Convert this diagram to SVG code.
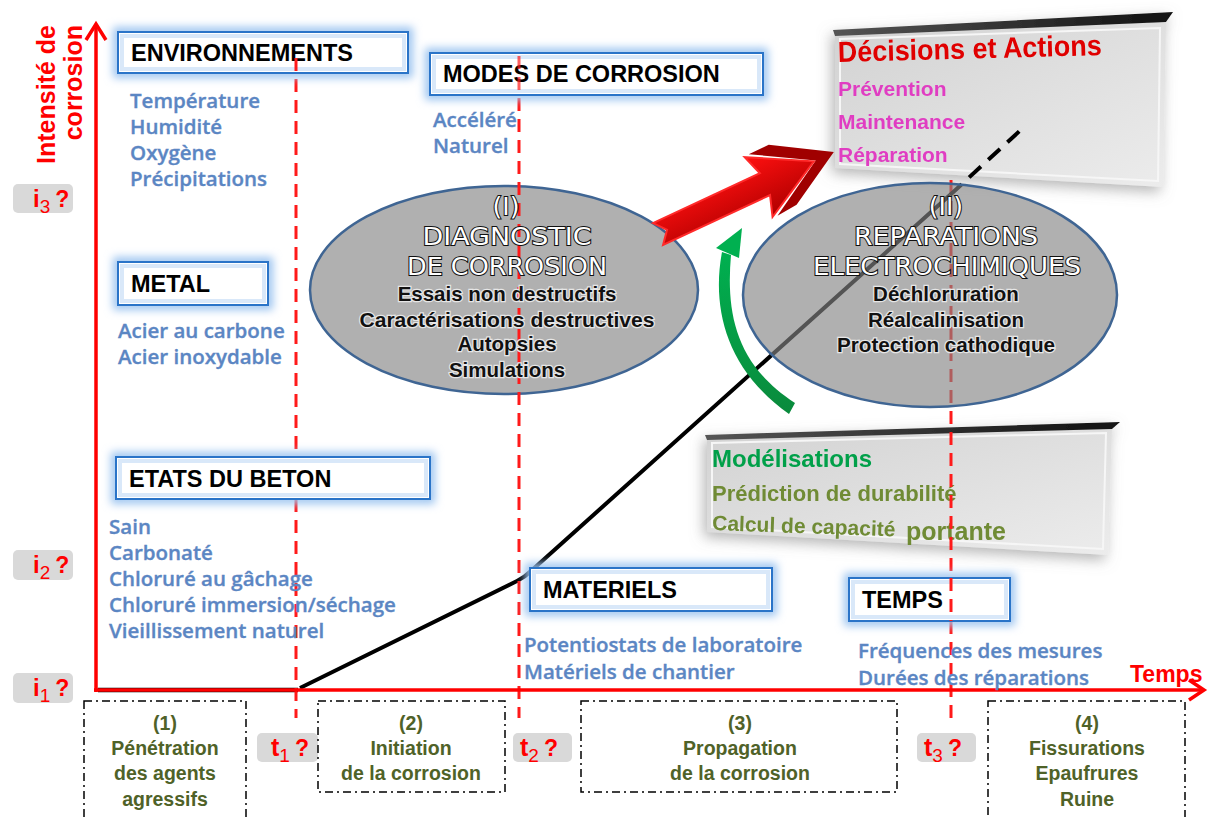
<svg xmlns="http://www.w3.org/2000/svg" width="1214" height="817" viewBox="0 0 1214 817">
<defs>
<style>
.hdr{font-family:"Liberation Sans",Arial,sans-serif;font-weight:bold;font-size:23.5px;fill:#000}
.blue{font-family:"Open Sans","Liberation Sans",sans-serif;font-weight:600;font-size:20.5px;fill:#5b86c3;stroke:#5b86c3;stroke-width:0.35}
.box{fill:#fff;stroke:#2a74c8;stroke-width:2}
.halo{fill:none;stroke:#9cc4f0;stroke-width:10;filter:url(#blur4)}
.inner{fill:none;stroke:#d9e8f9;stroke-width:4}
.tdash{stroke:#ff1a1a;stroke-width:3;stroke-dasharray:13 8;fill:none}
.axis{stroke:#ff0000;stroke-width:3.5;fill:none}
.lbl{fill:#d9d9d9}
.red{font-family:"Liberation Sans",Arial,sans-serif;font-weight:bold;fill:#ff0000}
.phase{fill:none;stroke:#000;stroke-width:1.5;stroke-dasharray:8 4 2 4}
.ph{font-family:"Liberation Sans",Arial,sans-serif;font-weight:bold;font-size:19.5px;fill:#4f6228;text-anchor:middle}
.ell{fill:#848484;fill-opacity:0.64;stroke:#3f6593;stroke-width:2.5}
.etitle{font-family:"DejaVu Sans",sans-serif;font-size:25px;fill:#fff;stroke:#111;stroke-width:2;paint-order:stroke;text-anchor:middle}
.esub{font-family:"Liberation Sans",sans-serif;font-weight:bold;font-size:20.5px;fill:#111;stroke:#e6e6e6;stroke-width:2.5;paint-order:stroke;text-anchor:middle}
.panel{filter:url(#shadow)}
.mag{font-family:"Liberation Sans",Arial,sans-serif;font-weight:bold;font-size:21px;fill:#e03ec2}
.olive{font-family:"Liberation Sans",Arial,sans-serif;font-weight:bold;fill:#6f8b35}
</style>
<filter id="blur4" x="-20%" y="-50%" width="140%" height="200%"><feGaussianBlur stdDeviation="4"/></filter>
<filter id="shadow" x="-10%" y="-20%" width="120%" height="140%"><feDropShadow dx="-3" dy="5" stdDeviation="7" flood-color="#7a7a7a" flood-opacity="0.55"/></filter>
<linearGradient id="pg" x1="0" y1="0" x2="1" y2="1"><stop offset="0" stop-color="#d2d2d2"/><stop offset="1" stop-color="#ececec"/></linearGradient>
<linearGradient id="edge" x1="0" y1="0" x2="1" y2="0"><stop offset="0" stop-color="#555"/><stop offset="1" stop-color="#111"/></linearGradient>
<linearGradient id="redg" x1="0" y1="0" x2="0" y2="1"><stop offset="0" stop-color="#ff1010"/><stop offset="1" stop-color="#b00000"/></linearGradient>
<linearGradient id="greeng" x1="0" y1="0" x2="0" y2="1"><stop offset="0" stop-color="#00b050"/><stop offset="1" stop-color="#0a8a3c"/></linearGradient>
</defs>
<rect width="1214" height="817" fill="#fff"/>

<!-- panels -->
<g id="decisions" class="panel">
<polygon points="835,35 1166,22 1163,187 835,168" fill="url(#pg)"/>
<polygon points="840,39 1160,28 1158,181 840,164" fill="none" stroke="#f6f6f6" stroke-width="2"/>
<polygon points="833,30 1173,12 1166,22 835,36" fill="url(#edge)"/>
<text x="838" y="62" transform="rotate(-1.5 838 62)" font-family="Liberation Sans,Arial,sans-serif" font-weight="bold" font-size="29" fill="#e00000" textLength="264" lengthAdjust="spacingAndGlyphs">Décisions et Actions</text>
<text class="mag" x="838" y="96">Prévention</text>
<text class="mag" x="838" y="129">Maintenance</text>
<text class="mag" x="838" y="162">Réparation</text>
</g>
<g id="modelisations" class="panel">
<polygon points="707,439 1112,428 1108,555 707,532" fill="url(#pg)"/>
<polygon points="712,443 1106,433 1103,549 712,527" fill="none" stroke="#f6f6f6" stroke-width="2"/>
<polygon points="705,435 1120,422 1112,429 707,440" fill="url(#edge)"/>
<text x="712" y="467" font-family="Liberation Sans,Arial,sans-serif" font-weight="bold" font-size="24" fill="#00a04a">Modélisations</text>
<text class="olive" x="712" y="501" font-size="22">Prédiction de durabilité</text>
<text class="olive" x="712" y="530" font-size="21" transform="rotate(2 712 530)">Calcul de capacité</text>
<text class="olive" x="906" y="540" font-size="25">portante</text>
</g>

<!-- connectors / curve -->
<g id="connectors">
<line class="tdash" x1="951" y1="180" x2="951" y2="718"/>
<polyline points="98,690 298,690" fill="none" stroke="#000" stroke-width="4.5"/>
<path d="M300,688 L517,581 Q525,577 531,571 L950,195" fill="none" stroke="#000" stroke-width="4"/>
<path d="M950,195 L1025,126" fill="none" stroke="#000" stroke-width="4" stroke-dasharray="16 10"/>
</g>

<g id="ellipse-I">
<ellipse class="ell" cx="504" cy="290" rx="194" ry="104"/>
</g>
<g id="ellipse-II">
<ellipse class="ell" cx="930" cy="295" rx="187" ry="112"/>
</g>

<g id="dashes">
<line class="tdash" x1="296" y1="58" x2="296" y2="718"/>
<line class="tdash" x1="519" y1="56" x2="519" y2="718"/>
</g>

<g id="ellipse-I-text">
<text class="etitle" x="506" y="215">(I)</text>
<text class="etitle" x="507" y="245" textLength="169" lengthAdjust="spacingAndGlyphs">DIAGNOSTIC</text>
<text class="etitle" x="507" y="275" textLength="200" lengthAdjust="spacingAndGlyphs">DE CORROSION</text>
<text class="esub" x="507" y="301">Essais non destructifs</text>
<text class="esub" x="507" y="327" textLength="295" lengthAdjust="spacingAndGlyphs">Caractérisations destructives</text>
<text class="esub" x="507" y="351">Autopsies</text>
<text class="esub" x="507" y="377">Simulations</text>
</g>
<g id="ellipse-II-text">
<text class="etitle" x="946" y="215">(II)</text>
<text class="etitle" x="946" y="245" textLength="184" lengthAdjust="spacingAndGlyphs">REPARATIONS</text>
<text class="etitle" x="947" y="275" textLength="268" lengthAdjust="spacingAndGlyphs">ELECTROCHIMIQUES</text>
<text class="esub" x="946" y="301">Déchloruration</text>
<text class="esub" x="946" y="327">Réalcalinisation</text>
<text class="esub" x="946" y="352" textLength="218" lengthAdjust="spacingAndGlyphs">Protection cathodique</text>
</g>

<!-- red arrow -->
<g id="red-arrow" transform="translate(658,234) rotate(-25)">
<polygon points="116,-34 174,0 116,34 138,32 194,0 138,-34" fill="#a00000"/>
<polygon points="0,-12 118,-12 111,-33 172,0 111,33 118,12 0,12 10,0" fill="url(#redg)" stroke="#ff2a2a" stroke-width="2" stroke-linejoin="miter"/>
</g>
<!-- green arrow -->
<g id="green-arrow">
<path d="M722,252 C712,305 724,368 789,414 L795,403 C735,364 726,312 731,255 Z" fill="url(#greeng)"/>
<polygon points="742,228 716,248 739,258" fill="#00b050"/>
</g>

<!-- axes -->
<g id="axes">
<line class="axis" x1="96" y1="692" x2="96" y2="24"/>
<polyline class="axis" points="86,40 96,24 106,40"/>
<line class="axis" x1="94" y1="690" x2="1203" y2="690"/>
<polyline class="axis" points="1189,680 1204,690 1189,700"/>
<text class="red" font-size="25" transform="translate(55,25) rotate(-90)" text-anchor="end">Intensité de</text>
<text class="red" font-size="25" transform="translate(82,25) rotate(-90)" text-anchor="end">corrosion</text>
<text class="red" font-size="23" x="1130" y="682">Temps</text>
</g>

<!-- axis labels -->
<g id="i3"><rect class="lbl" x="13" y="184" width="60" height="29" rx="5"/><text class="red" x="33" y="207"><tspan font-size="24">i</tspan><tspan font-size="19" font-weight="normal" dy="6">3</tspan><tspan font-size="23" dy="-6" dx="5">?</tspan></text></g>
<g id="i2"><rect class="lbl" x="13" y="550" width="60" height="30" rx="5"/><text class="red" x="33" y="573"><tspan font-size="24">i</tspan><tspan font-size="19" font-weight="normal" dy="6">2</tspan><tspan font-size="23" dy="-6" dx="5">?</tspan></text></g>
<g id="i1"><rect class="lbl" x="13" y="673" width="60" height="30" rx="5"/><text class="red" x="33" y="696"><tspan font-size="24">i</tspan><tspan font-size="19" font-weight="normal" dy="6">1</tspan><tspan font-size="23" dy="-6" dx="5">?</tspan></text></g>
<g id="t1"><rect class="lbl" x="257" y="733" width="61" height="29" rx="5"/><text class="red" x="271" y="756"><tspan font-size="25">t</tspan><tspan font-size="19" font-weight="normal" dy="6">1</tspan><tspan font-size="23" dy="-6" dx="5">?</tspan></text></g>
<g id="t2"><rect class="lbl" x="513" y="733" width="59" height="29" rx="5"/><text class="red" x="520" y="756"><tspan font-size="25">t</tspan><tspan font-size="19" font-weight="normal" dy="6">2</tspan><tspan font-size="23" dy="-6" dx="5">?</tspan></text></g>
<g id="t3"><rect class="lbl" x="917" y="733" width="59" height="29" rx="5"/><text class="red" x="924" y="756"><tspan font-size="25">t</tspan><tspan font-size="19" font-weight="normal" dy="6">3</tspan><tspan font-size="23" dy="-6" dx="5">?</tspan></text></g>

<!-- blue boxes -->
<g id="environnements">
<rect class="halo" x="118" y="32" width="290" height="41"/><rect class="box" x="118" y="32" width="290" height="41"/><rect class="inner" x="122" y="36" width="282" height="33"/>
<text class="hdr" x="131" y="61">ENVIRONNEMENTS</text>
<text class="blue" x="130" y="108">Température</text>
<text class="blue" x="130" y="134">Humidité</text>
<text class="blue" x="130" y="160">Oxygène</text>
<text class="blue" x="130" y="186">Précipitations</text>
</g>
<g id="modes">
<rect class="halo" x="430" y="53" width="333" height="42"/><rect class="box" x="430" y="53" width="333" height="42"/><rect class="inner" x="434" y="57" width="325" height="34"/>
<text class="hdr" x="443" y="82">MODES DE CORROSION</text>
<text class="blue" x="433" y="127">Accéléré</text>
<text class="blue" x="433" y="153">Naturel</text>
</g>
<g id="metal">
<rect class="halo" x="118" y="262" width="150" height="43"/><rect class="box" x="118" y="262" width="150" height="43"/><rect class="inner" x="122" y="266" width="142" height="35"/>
<text class="hdr" x="131" y="292">METAL</text>
<text class="blue" x="118" y="338">Acier au carbone</text>
<text class="blue" x="118" y="364">Acier inoxydable</text>
</g>
<g id="etats">
<rect class="halo" x="116" y="457" width="314" height="42"/><rect class="box" x="116" y="457" width="314" height="42"/><rect class="inner" x="120" y="461" width="306" height="34"/>
<text class="hdr" x="129" y="487">ETATS DU BETON</text>
<text class="blue" x="109" y="534">Sain</text>
<text class="blue" x="109" y="560">Carbonaté</text>
<text class="blue" x="109" y="586">Chloruré au gâchage</text>
<text class="blue" x="109" y="612">Chloruré immersion/séchage</text>
<text class="blue" x="109" y="638">Vieillissement naturel</text>
</g>
<g id="materiels">
<rect class="halo" x="530" y="568" width="242" height="43"/><rect class="box" x="530" y="568" width="242" height="43"/><rect class="inner" x="534" y="572" width="234" height="35"/>
<text class="hdr" x="543" y="598">MATERIELS</text>
<text class="blue" x="524" y="652">Potentiostats de laboratoire</text>
<text class="blue" x="524" y="679">Matériels de chantier</text>
</g>
<g id="temps">
<rect class="halo" x="849" y="578" width="161" height="43"/><rect class="box" x="849" y="578" width="161" height="43"/><rect class="inner" x="853" y="582" width="153" height="35"/>
<text class="hdr" x="862" y="608">TEMPS</text>
<text class="blue" x="858" y="658">Fréquences des mesures</text>
<text class="blue" x="858" y="685">Durées des réparations</text>
</g>
<g id="dashes-over">
<line class="tdash" x1="296" y1="58" x2="296" y2="75"/>
<line class="tdash" x1="519" y1="56" x2="519" y2="95" stroke-opacity="0.7"/>
<line class="tdash" x1="951" y1="578" x2="951" y2="621"/>
</g>

<!-- phases -->
<g id="phase1"><rect class="phase" x="84" y="701" width="162" height="130"/>
<text class="ph" x="165" y="730">(1)</text><text class="ph" x="165" y="755">Pénétration</text><text class="ph" x="165" y="780">des agents</text><text class="ph" x="165" y="806">agressifs</text></g>
<g id="phase2"><rect class="phase" x="318" y="701" width="187" height="91"/>
<text class="ph" x="411" y="730">(2)</text><text class="ph" x="411" y="755">Initiation</text><text class="ph" x="411" y="780">de la corrosion</text></g>
<g id="phase3"><rect class="phase" x="581" y="701" width="316" height="91"/>
<text class="ph" x="740" y="730">(3)</text><text class="ph" x="740" y="755">Propagation</text><text class="ph" x="740" y="780">de la corrosion</text></g>
<g id="phase4"><rect class="phase" x="988" y="701" width="197" height="130"/>
<text class="ph" x="1087" y="730">(4)</text><text class="ph" x="1087" y="755">Fissurations</text><text class="ph" x="1087" y="780">Epaufrures</text><text class="ph" x="1087" y="806">Ruine</text></g>
</svg>
